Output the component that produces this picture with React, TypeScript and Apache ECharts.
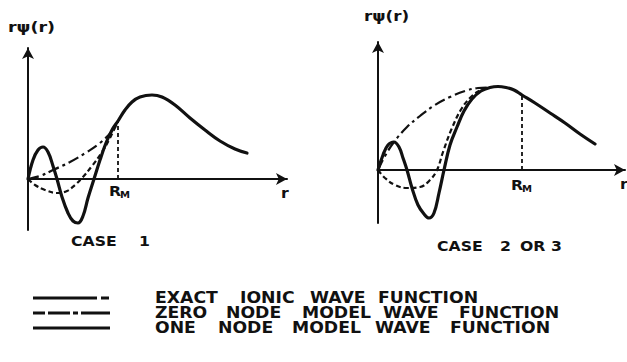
import React, { useEffect, useRef } from "react";
import * as echarts from "echarts";

// CASE 1 (left panel): r in arbitrary units, r*psi(r) in arbitrary units
const case1Exact: number[][] = [
  [0, 0], [0.25, 0.38], [0.5, 0.58], [0.75, 0.64], [1.0, 0.54], [1.25, 0.26], [1.45, 0],
  [1.7, -0.36], [2.0, -0.68], [2.25, -0.84], [2.5, -0.88], [2.75, -0.74], [3.0, -0.38],
  [3.3, 0], [3.6, 0.38], [3.9, 0.72], [4.2, 0.98], [4.5, 1.16], [4.85, 1.38], [5.2, 1.54],
  [5.6, 1.64], [6.2, 1.68], [6.7, 1.64], [7.35, 1.48], [8.1, 1.22], [8.85, 0.98],
  [9.6, 0.76], [10.35, 0.6], [10.95, 0.52],
];
const case1ZeroNode: number[][] = [
  [0, 0], [0.6, 0.06], [1.25, 0.18], [2.1, 0.34], [2.95, 0.54], [3.6, 0.72], [4.25, 0.98], [4.5, 1.16],
];
const case1OneNode: number[][] = [
  [0, 0], [0.35, -0.12], [0.85, -0.22], [1.45, -0.28], [1.95, -0.24], [2.35, -0.12],
  [2.7, 0.02], [3.2, 0.26], [3.7, 0.54], [4.1, 0.82], [4.5, 1.16],
];
const case1RM = 4.5;
const case1RMValue = 1.16;

// CASE 2 OR 3 (right panel)
const case2Exact: number[][] = [
  [0, 0], [0.25, 0.3], [0.5, 0.5], [0.8, 0.56], [1.05, 0.46], [1.25, 0.24], [1.45, 0],
  [1.7, -0.36], [2.0, -0.7], [2.3, -0.88], [2.55, -0.96], [2.8, -0.86], [3.05, -0.46],
  [3.3, 0], [3.6, 0.5], [3.95, 0.86], [4.3, 1.18], [4.7, 1.42], [5.15, 1.58], [5.6, 1.65],
  [6.0, 1.67], [6.4, 1.65], [6.8, 1.6], [7.2, 1.5], [7.85, 1.34], [8.6, 1.14], [9.35, 0.94],
  [10.1, 0.72], [10.85, 0.52],
];
const case2ZeroNode: number[][] = [
  [0, 0], [0.35, 0.28], [0.8, 0.56], [1.45, 0.86], [2.1, 1.08], [2.85, 1.3], [3.6, 1.46],
  [4.35, 1.58], [5.0, 1.64], [5.6, 1.65],
];
const case2OneNode: number[][] = [
  [0, 0], [0.35, -0.16], [0.85, -0.3], [1.45, -0.36], [2.1, -0.34], [2.6, -0.2], [2.95, 0],
  [3.25, 0.36], [3.7, 0.84], [4.2, 1.24], [4.7, 1.48], [5.15, 1.6], [5.6, 1.65],
];
const case2RM = 7.2;
const case2RMValue = 1.5;

const legendLabels = [
  ["EXACT", "IONIC", "WAVE", "FUNCTION"],
  ["ZERO", "NODE", "MODEL", "WAVE", "FUNCTION"],
  ["ONE", "NODE", "MODEL", "WAVE", "FUNCTION"],
];
const panelTitles = [["CASE", "1"], ["CASE", "2", "OR", "3"]];
const yAxisLabel = "rψ(r)";
const xAxisLabel = "r";

const INK = "#111";
const FONT = "DejaVu Sans";

export default function App() {
  const ref = useRef<HTMLDivElement>(null);
  useEffect(() => {
    if (!ref.current) return;
    const chart = echarts.init(ref.current, null, { renderer: "svg" });

    const axisCommon = {
      axisTick: { show: false },
      axisLabel: { show: false },
      splitLine: { show: false },
    };
    const xAxis = (gridIndex: number, max: number) => ({
      type: "value",
      gridIndex,
      min: 0,
      max,
      ...axisCommon,
      axisLine: {
        onZero: true,
        symbol: ["none", "arrow"],
        symbolSize: [9, 11],
        lineStyle: { color: INK, width: 2 },
      },
    });
    const yAxis = (gridIndex: number, min: number, max: number) => ({
      type: "value",
      gridIndex,
      min,
      max,
      ...axisCommon,
      axisLine: {
        show: true,
        onZero: false,
        symbol: ["none", "arrow"],
        symbolSize: [9, 11],
        lineStyle: { color: INK, width: 2 },
      },
    });
    const line = (idx: number, data: number[][], kind: string) => ({
      type: "line",
      xAxisIndex: idx,
      yAxisIndex: idx,
      data,
      smooth: 0.4,
      symbol: "none",
      silent: true,
      lineStyle:
        kind === "exact"
          ? { color: INK, width: 3.2, type: "solid", cap: "round" }
          : kind === "zero"
          ? { color: INK, width: 2.2, type: [11, 4, 3, 4] }
          : { color: INK, width: 2.2, type: [5, 3] },
      z: kind === "exact" ? 3 : 2,
    });
    const rm = (idx: number, x: number, y: number) => ({
      type: "line",
      xAxisIndex: idx,
      yAxisIndex: idx,
      data: [[x, 0], [x, y]],
      symbol: "none",
      silent: true,
      lineStyle: { color: INK, width: 1.8, type: [4, 3] },
    });

    const txt = (x: number, y: number, text: string, size: number, sx = 1.12) => ({
      type: "text",
      x,
      y,
      scaleX: sx,
      style: {
        text,
        fill: INK,
        font: `bold ${size}px "${FONT}"`,
        align: "left",
        verticalAlign: "middle",
      },
    });

    const legendY = [298, 313, 328];
    const legendWordX = [
      [155, 240, 310, 378],
      [155, 226, 302, 383, 459],
      [155, 218, 292, 375, 450],
    ];
    const graphics: any[] = [];
    // axis labels
    graphics.push(txt(8, 27, yAxisLabel, 14, 1.25));
    graphics.push(txt(364, 16, yAxisLabel, 14, 1.2));
    graphics.push(txt(281, 193, xAxisLabel, 14));
    graphics.push(txt(620, 184, xAxisLabel, 14));
    // R_M labels
    graphics.push(txt(109, 191, "R", 14));
    graphics.push(txt(120, 195, "M", 9));
    graphics.push(txt(511, 185, "R", 14));
    graphics.push(txt(522, 189, "M", 9));
    // panel titles
    const titleX = [[71, 139], [437, 500, 520, 551]];
    const titleY = [241, 246];
    panelTitles.forEach((words, i) => {
      words.forEach((w, j) => graphics.push(txt(titleX[i][j], titleY[i], w, 14)));
    });
    // legend
    const legendDash: (number[] | null)[] = [[64, 4, 8, 100], [12, 3, 22, 3, 5, 3, 40], null];
    legendY.forEach((y, i) => {
      graphics.push({
        type: "line",
        shape: { x1: 33, y1: y, x2: 110, y2: y },
        style: { stroke: INK, lineWidth: 3, lineDash: legendDash[i] || undefined },
      });
      legendLabels[i].forEach((w, j) => {
        graphics.push(txt(legendWordX[i][j], y, w, 15, 1.15));
      });
    });

    chart.setOption({
      animation: false,
      backgroundColor: "#fff",
      grid: [
        { left: 28, top: 48, width: 259, height: 182 },
        { left: 378, top: 42, width: 247, height: 181 },
      ],
      xAxis: [xAxis(0, 12.95), xAxis(1, 12.35)],
      yAxis: [yAxis(0, -1.02, 2.62), yAxis(1, -1.06, 2.56)],
      series: [
        line(0, case1Exact, "exact"),
        line(0, case1ZeroNode, "zero"),
        line(0, case1OneNode, "one"),
        rm(0, case1RM, case1RMValue),
        line(1, case2Exact, "exact"),
        line(1, case2ZeroNode, "zero"),
        line(1, case2OneNode, "one"),
        rm(1, case2RM, case2RMValue),
      ],
      graphic: graphics,
    });
    return () => chart.dispose();
  }, []);
  return (
    <div
      ref={ref}
      style={{ position: "fixed", left: 0, top: 0, width: 627, height: 362, background: "#fff" }}
    />
  );
}
